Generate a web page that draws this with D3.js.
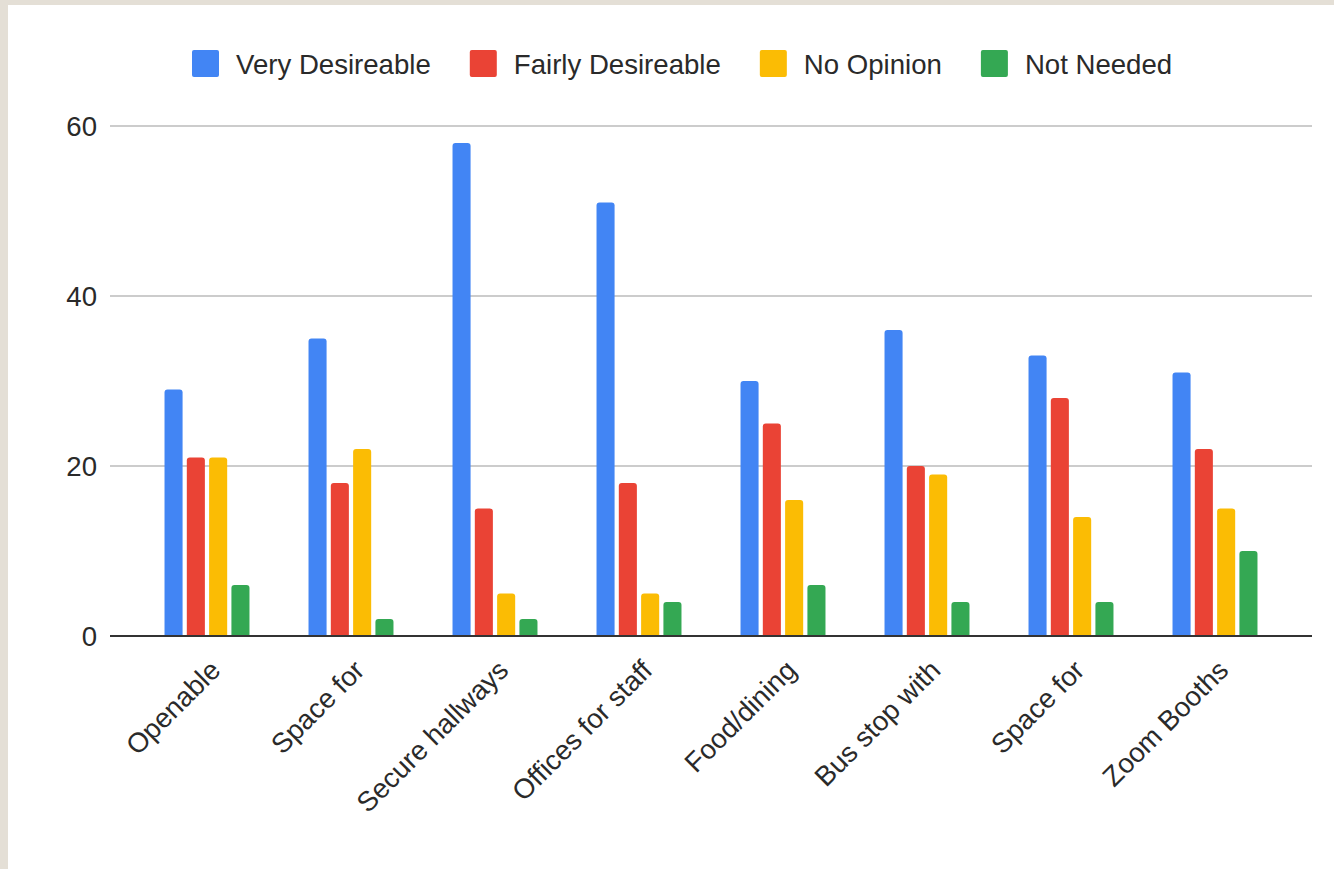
<!DOCTYPE html>
<html>
<head>
<meta charset="utf-8">
<script src="https://cdn.jsdelivr.net/npm/d3@7"></script>
<style>
  html, body { margin: 0; padding: 0; background: #e4dfd6; }
  svg { display: block; }
  text { font-family: "Liberation Sans", Arial, sans-serif; }
</style>
</head>
<body>
<svg id="chart" width="1334" height="869"></svg>
<script>
const categories = ["Openable", "Space for", "Secure hallways", "Offices for staff", "Food/dining", "Bus stop with", "Space for", "Zoom Booths"];
const seriesNames = ["Very Desireable", "Fairly Desireable", "No Opinion", "Not Needed"];
const veryDesireable   = [29, 35, 58, 51, 30, 36, 33, 31];
const fairlyDesireable = [21, 18, 15, 18, 25, 20, 28, 22];
const noOpinion        = [21, 22, 5, 5, 16, 19, 14, 15];
const notNeeded        = [6, 2, 2, 4, 6, 4, 4, 10];
const yTicks = [0, 20, 40, 60];
const colors = ["#4285F4", "#EA4335", "#FBBC04", "#34A853"];

const seriesValues = [veryDesireable, fairlyDesireable, noOpinion, notNeeded];

const svg = d3.select("#chart");
// panel
svg.append("rect").attr("x", 8).attr("y", 5).attr("width", 1334 - 8).attr("height", 869 - 5).attr("fill", "#ffffff");

const fontSize = 27.6;
const textColor = "#2a2a2a";

const x0 = d3.scaleBand().domain(d3.range(categories.length)).range([135, 1287]).paddingInner(0.41).paddingOuter(0.205);
const x1 = d3.scaleBand().domain(d3.range(seriesNames.length)).range([0, x0.bandwidth()]).paddingInner(0.19).paddingOuter(0);
const y = d3.scaleLinear().domain([0, 60]).range([636, 126]);

const gridLeft = 110, gridRight = 1312;

// gridlines
svg.append("g").selectAll("line").data(yTicks.filter(d => d !== 0)).join("line")
  .attr("x1", gridLeft).attr("x2", gridRight)
  .attr("y1", d => y(d)).attr("y2", d => y(d))
  .attr("stroke", "#cccccc").attr("stroke-width", 2);

// y axis labels
const yAxis = d3.axisLeft(y).tickValues(yTicks).tickSize(0).tickPadding(0);
const yg = svg.append("g").attr("transform", `translate(${gridLeft - 13},0)`).call(yAxis);
yg.select(".domain").remove();
yg.selectAll("text").attr("font-size", fontSize).attr("fill", textColor)
  .attr("font-family", "Liberation Sans, Arial, sans-serif").attr("dy", "0.35em");

// bars
function topRoundedRect(x, yTop, w, h, r) {
  r = Math.min(r, h, w / 2);
  return `M${x},${yTop + h}V${yTop + r}Q${x},${yTop} ${x + r},${yTop}H${x + w - r}Q${x + w},${yTop} ${x + w},${yTop + r}V${yTop + h}Z`;
}
const barData = [];
categories.forEach((c, i) => {
  seriesValues.forEach((vals, s) => barData.push({ i, s, v: vals[i] }));
});
svg.append("g").selectAll("path").data(barData).join("path")
  .attr("d", d => topRoundedRect(x0(d.i) + x1(d.s), y(d.v), x1.bandwidth(), y(0) - y(d.v), 3))
  .attr("fill", d => colors[d.s]);

// baseline
svg.append("line").attr("x1", gridLeft).attr("x2", gridRight).attr("y1", y(0)).attr("y2", y(0))
  .attr("stroke", "#333333").attr("stroke-width", 2);

// x labels
const xAxis = d3.axisBottom(x0).tickFormat(i => categories[i]).tickSize(0).tickPadding(0);
const xg = svg.append("g").attr("transform", `translate(0,${y(0)})`).call(xAxis);
xg.select(".domain").remove();
xg.selectAll(".tick text")
  .attr("font-size", fontSize).attr("fill", textColor)
  .attr("font-family", "Liberation Sans, Arial, sans-serif")
  .attr("text-anchor", "end")
  .attr("y", 0).attr("dy", 0)
  .attr("transform", "translate(15,36) rotate(-45)");

// legend
const legend = svg.append("g");
let lx = 192;
seriesNames.forEach((name, s) => {
  legend.append("rect").attr("x", lx).attr("y", 50).attr("width", 27).attr("height", 27).attr("rx", 2).attr("fill", colors[s]);
  const t = legend.append("text").attr("x", lx + 44).attr("y", 74).attr("font-size", fontSize).attr("fill", textColor).text(name);
  const w = t.node().getComputedTextLength();
  lx = lx + 44 + w + 39;
});
</script>
</body>
</html>
